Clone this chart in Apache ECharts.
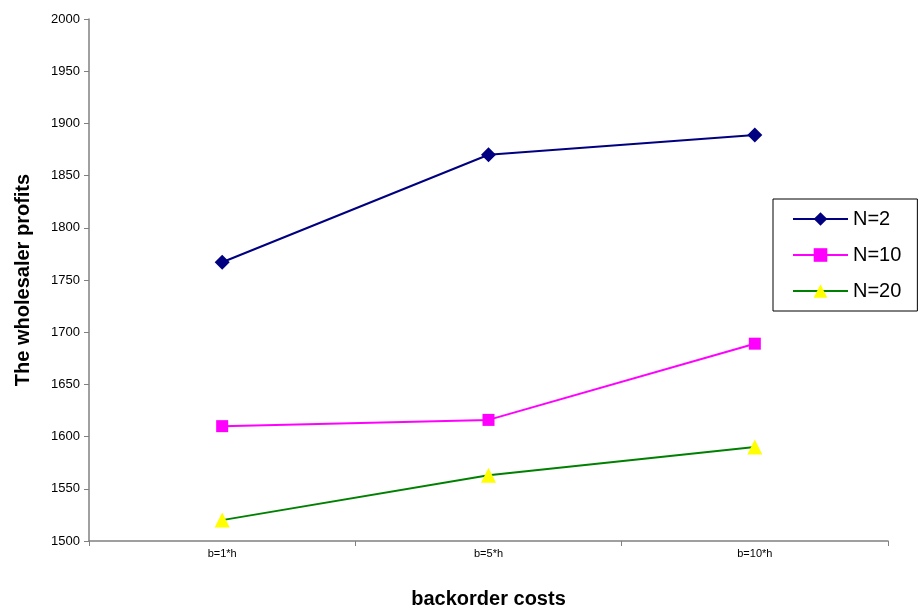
<!DOCTYPE html>
<html>
<head>
<meta charset="utf-8">
<script src="https://cdn.jsdelivr.net/npm/echarts@6/dist/echarts.min.js"></script>
<style>
  html, body { margin: 0; padding: 0; background: #fff; }
  #chart { width: 922px; height: 613px; }
</style>
</head>
<body>
<div id="chart"></div>
<script>
// Backorder cost scenarios on the x axis
const categories = ['b=1*h', 'b=5*h', 'b=10*h'];

// Wholesaler profits for each number of retailers
const seriesNames = ['N=2', 'N=10', 'N=20'];
const profitsN2 = [1767, 1870, 1889];
const profitsN10 = [1610, 1616, 1689];
const profitsN20 = [1520, 1563, 1590];

const yMin = 1500, yMax = 2000, yStep = 50;

const font = 'Liberation Sans, Arial, sans-serif';

function lineSeries(name, data, lineColor, symbol, symbolColor, symbolSize) {
  return {
    name: name,
    type: 'line',
    data: data,
    symbol: symbol,
    symbolSize: symbolSize,
    lineStyle: { color: lineColor, width: 2 },
    itemStyle: { color: symbolColor, borderWidth: 0 },
    emphasis: { disabled: true },
    animation: false
  };
}

const chart = echarts.init(document.getElementById('chart'), null, { renderer: 'canvas' });
chart.setOption({
  backgroundColor: '#fff',
  animation: false,
  grid: { left: 89, right: 34, top: 19, bottom: 72, containLabel: false, outerBoundsMode: 'none' },
  xAxis: {
    type: 'category',
    data: categories,
    boundaryGap: true,
    name: 'backorder costs',
    nameLocation: 'middle',
    nameGap: 48,
    nameTextStyle: { fontFamily: font, fontSize: 20, fontWeight: 'bold', color: '#000' },
    axisLine: { lineStyle: { color: '#808080', width: 1.5 } },
    axisTick: { show: true, alignWithLabel: false, length: 5, lineStyle: { color: '#808080' } },
    axisLabel: { fontFamily: font, fontSize: 11, color: '#000', margin: 7 },
    splitLine: { show: false }
  },
  yAxis: {
    type: 'value',
    min: yMin,
    max: yMax,
    interval: yStep,
    name: 'The wholesaler profits',
    nameLocation: 'middle',
    nameGap: 56,
    nameTextStyle: { fontFamily: font, fontSize: 20, fontWeight: 'bold', color: '#000' },
    axisLine: { show: true, lineStyle: { color: '#808080', width: 1.5 } },
    axisTick: { show: true, length: 5, lineStyle: { color: '#808080' } },
    axisLabel: { fontFamily: font, fontSize: 13, color: '#000', margin: 9, formatter: (v) => String(v) },
    splitLine: { show: false }
  },
  legend: {
    orient: 'vertical',
    left: 773,
    top: 199,
    itemWidth: 55,
    itemHeight: 17,
    itemGap: 16,
    padding: [10, 16, 10, 19],
    borderColor: '#000',
    borderWidth: 1,
    textStyle: { fontFamily: font, fontSize: 20, color: '#000' },
    data: seriesNames
  },
  series: [
    lineSeries(seriesNames[0], profitsN2, '#000080', 'diamond', '#000080', 15),
    lineSeries(seriesNames[1], profitsN10, '#ff00ff', 'rect', '#ff00ff', 12),
    lineSeries(seriesNames[2], profitsN20, '#008000', 'triangle', '#ffff00', 15)
  ]
});
</script>
</body>
</html>
